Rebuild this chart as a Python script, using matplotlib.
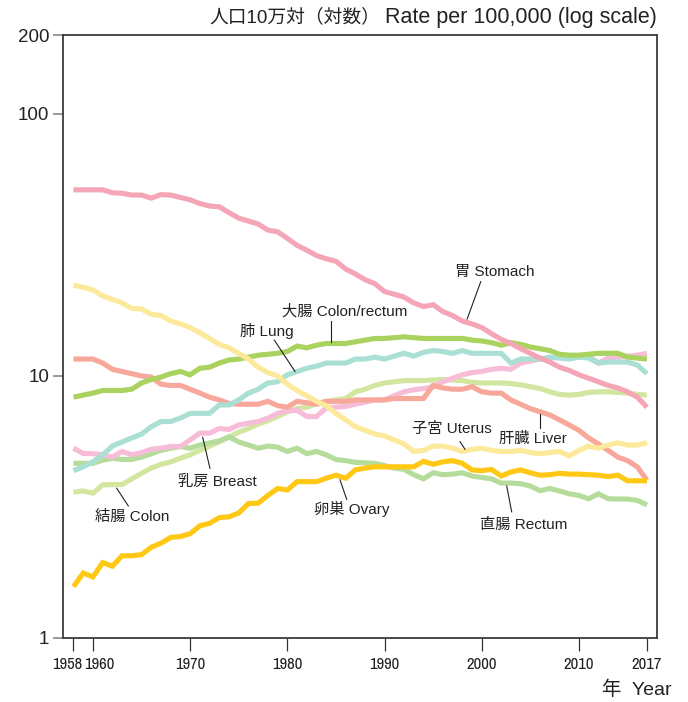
import matplotlib
matplotlib.use('Agg')
import matplotlib.pyplot as plt
from matplotlib import font_manager
from matplotlib.font_manager import FontProperties
from matplotlib.ticker import NullLocator
from matplotlib.transforms import ScaledTranslation

plt.rcParams['font.family'] = ['Liberation Sans', 'Noto Sans CJK JP', 'DejaVu Sans']

years = list(range(1958, 2018))

# rate per 100,000
stomach = [51.3, 51.3, 51.3, 51.3, 50.0, 49.8, 49.0, 49.0, 47.7, 49.2,
           49.0, 48.0, 47.0, 45.5, 44.5, 44.2, 42.0, 40.0, 39.0, 38.0,
           36.0, 35.5, 33.5, 31.5, 30.2, 28.8, 28.0, 27.4, 25.6, 24.5,
           23.3, 22.5, 21.0, 20.5, 20.0, 19.0, 18.4, 18.7, 17.6, 17.0,
           16.2, 15.8, 15.3, 14.5, 13.8, 13.3, 12.7, 12.2, 11.7, 11.3,
           10.8, 10.5, 10.1, 9.8, 9.5, 9.2, 9.0, 8.7, 8.3, 7.6]
uterus = [22.2, 21.8, 21.3, 20.2, 19.6, 19.0, 18.1, 18.0, 17.2, 17.0,
          16.2, 15.8, 15.3, 14.6, 13.9, 13.2, 12.8, 12.2, 11.6, 10.8,
          10.3, 10.0, 9.3, 8.8, 8.4, 8.0, 7.7, 7.2, 6.8, 6.4,
          6.2, 6.0, 5.9, 5.7, 5.5, 5.15, 5.2, 5.4, 5.4, 5.3,
          5.15, 5.25, 5.3, 5.2, 5.15, 5.15, 5.2, 5.1, 5.05, 5.1,
          5.15, 4.95, 5.2, 5.4, 5.3, 5.45, 5.55, 5.45, 5.45, 5.56]
colon_rectum = [8.3, 8.45, 8.6, 8.8, 8.8, 8.8, 8.9, 9.4, 9.7, 9.9,
                10.2, 10.4, 10.1, 10.7, 10.8, 11.2, 11.5, 11.6, 11.8, 12.0,
                12.1, 12.2, 12.4, 13.0, 12.8, 13.1, 13.3, 13.3, 13.3, 13.5,
                13.7, 13.9, 13.9, 14.0, 14.1, 14.0, 13.9, 13.9, 13.9, 13.9,
                13.9, 13.7, 13.6, 13.4, 13.1, 13.4, 13.2, 12.9, 12.7, 12.5,
                12.1, 12.0, 12.0, 12.1, 12.2, 12.2, 12.2, 11.8, 11.7, 11.6]
liver = [11.6, 11.6, 11.6, 11.2, 10.6, 10.4, 10.2, 10.0, 9.9, 9.3,
         9.2, 9.2, 8.9, 8.6, 8.3, 8.1, 7.85, 7.8, 7.8, 7.8,
         8.0, 7.7, 7.6, 8.0, 7.9, 7.8, 8.0, 8.0, 8.0, 8.1,
         8.1, 8.1, 8.1, 8.2, 8.2, 8.2, 8.2, 9.2, 9.0, 8.9,
         8.9, 9.1, 8.7, 8.6, 8.6, 8.1, 7.8, 7.5, 7.3, 7.1,
         6.8, 6.5, 6.2, 5.8, 5.5, 5.2, 4.9, 4.75, 4.5, 4.0]
lung = [4.35, 4.5, 4.7, 5.0, 5.4, 5.6, 5.8, 6.0, 6.4, 6.7,
        6.7, 6.9, 7.2, 7.2, 7.2, 7.75, 7.75, 8.1, 8.6, 8.9,
        9.4, 9.5, 10.1, 10.4, 10.7, 10.9, 11.2, 11.2, 11.2, 11.6,
        11.6, 11.8, 11.6, 11.9, 12.2, 11.9, 12.3, 12.5, 12.4, 12.2,
        12.5, 12.2, 12.2, 12.2, 12.2, 11.2, 11.6, 11.6, 11.6, 11.8,
        11.7, 11.6, 11.8, 11.7, 11.2, 11.3, 11.3, 11.3, 11.0, 10.2]
breast = [5.3, 5.06, 5.05, 5.0, 4.9, 5.15, 5.0, 5.1, 5.25, 5.3,
          5.38, 5.38, 5.7, 6.05, 6.05, 6.3, 6.25, 6.5, 6.6, 6.7,
          6.9, 7.2, 7.35, 7.4, 7.0, 7.0, 7.55, 7.6, 7.65, 7.8,
          7.95, 8.1, 8.1, 8.4, 8.7, 8.85, 8.95, 9.1, 9.5, 9.8,
          10.1, 10.3, 10.4, 10.6, 10.7, 10.6, 11.2, 11.4, 11.6, 11.7,
          11.8, 11.7, 11.8, 11.9, 11.2, 11.7, 11.8, 11.9, 12.0, 12.2]
colon = [3.6, 3.64, 3.57, 3.84, 3.85, 3.85, 4.05, 4.25, 4.45, 4.6,
         4.7, 4.85, 5.0, 5.2, 5.4, 5.6, 5.85, 6.1, 6.3, 6.55,
         6.75, 7.0, 7.3, 7.5, 7.6, 7.85, 8.0, 8.1, 8.2, 8.7,
         8.9, 9.2, 9.4, 9.5, 9.6, 9.6, 9.6, 9.65, 9.7, 9.65,
         9.6, 9.45, 9.4, 9.4, 9.4, 9.35, 9.25, 9.1, 8.95, 8.7,
         8.5, 8.45, 8.5, 8.65, 8.7, 8.7, 8.65, 8.6, 8.5, 8.45]
rectum = [4.64, 4.64, 4.64, 4.77, 4.85, 4.8, 4.8, 4.9, 5.05, 5.2,
          5.3, 5.38, 5.3, 5.45, 5.55, 5.65, 5.85, 5.6, 5.45, 5.3,
          5.4, 5.35, 5.15, 5.3, 5.05, 5.15, 5.0, 4.8, 4.75, 4.68,
          4.66, 4.64, 4.55, 4.45, 4.4, 4.2, 4.05, 4.27, 4.2, 4.22,
          4.27, 4.15, 4.1, 4.05, 3.9, 3.9, 3.88, 3.8, 3.65, 3.72,
          3.64, 3.55, 3.5, 3.4, 3.55, 3.4, 3.39, 3.39, 3.35, 3.22]
ovary = [1.57, 1.77, 1.71, 1.94, 1.88, 2.06, 2.06, 2.08, 2.22, 2.3,
         2.42, 2.44, 2.5, 2.68, 2.74, 2.88, 2.9, 3.0, 3.26, 3.27,
         3.5, 3.72, 3.67, 3.95, 3.95, 3.95, 4.07, 4.18, 4.07, 4.38,
         4.45, 4.5, 4.5, 4.5, 4.5, 4.5, 4.72, 4.6, 4.7, 4.75,
         4.64, 4.38, 4.35, 4.4, 4.15, 4.3, 4.38, 4.27, 4.18, 4.2,
         4.25, 4.22, 4.22, 4.2, 4.18, 4.13, 4.18, 3.98, 3.98, 3.98]

x_ticks = [1958, 1960, 1970, 1980, 1990, 2000, 2010, 2017]
y_ticks = [1, 10, 100, 200]


def condensed_font():
    # look for an installed condensed/narrow sans for the year labels
    best = None
    for f in font_manager.fontManager.ttflist:
        if f.style != 'normal' or str(f.weight) not in ('400', 'normal', 'regular', 'book'):
            continue
        st = str(f.stretch)
        score = None
        if 'Narrow' in f.name:
            score = 0
        elif st in ('condensed', '75'):
            score = 1
        elif st in ('semi-condensed', '87.5'):
            score = 2
        if score is not None and (best is None or score < best[0]):
            best = (score, f.fname)
    return best[1] if best else None


fig = plt.figure(figsize=(6.88, 7.02), dpi=100)
ax = fig.add_axes([63/688, 1-638/702, 594/688, 603/702])

# drawing order: bottom to top
series = [
    (colon, '#d2e6a0'),
    (rectum, '#b5dc9b'),
    (breast, '#f7bcd8'),
    (liver, '#f8a79b'),
    (lung, '#aadfd3'),
    (colon_rectum, '#a9d25e'),
    (stomach, '#f4a6b7'),
    (uterus, '#fde99b'),
    (ovary, '#ffc815'),
]
for vals, col in series:
    ax.plot(years, vals, color=col, lw=3.7, solid_joinstyle='miter',
            solid_capstyle='butt')

ax.set_yscale('log')
ax.set_ylim(1, 200)
ax.set_xlim(1956.92, 2018.03)
ax.set_yticks(y_ticks)
ax.set_yticklabels([str(v) for v in y_ticks], fontsize=13.5)
ax.yaxis.set_minor_locator(NullLocator())
ax.set_xticks(x_ticks)
cf = condensed_font()
if cf:
    xfp = FontProperties(fname=cf, size=12)
else:
    xfp = FontProperties(family='Liberation Sans', size=9.5)
ax.set_xticklabels([str(v) for v in x_ticks], fontproperties=xfp)
ax.tick_params(axis='y', length=7, width=1.2, color='#888888', pad=3,
               labelcolor='#222222')
ax.tick_params(axis='x', length=9, width=0.9, color='#333333', pad=5,
               labelcolor='#222222')
for sp in ax.spines.values():
    sp.set_color('#3c3c3c')
    sp.set_linewidth(1.3)

# pull the crowded 1958/1960 labels apart
xl = ax.get_xticklabels()
xl[0].set_transform(xl[0].get_transform() + ScaledTranslation(-0.065, 0, fig.dpi_scale_trans))
xl[1].set_transform(xl[1].get_transform() + ScaledTranslation(0.065, 0, fig.dpi_scale_trans))

# labels with leader lines: (text, text pos, line start, line end)
labels = [
    ('胃 Stomach', (1997.25, 25.0), (1999.9, 22.9), (1998.5, 16.5)),
    ('大腸 Colon/rectum', (1979.4, 17.6), (1984.46, 16.2), (1984.46, 13.5)),
    ('肺 Lung', (1975.1, 14.85), (1978.66, 13.7), (1980.79, 10.4)),
    ('乳房 Breast', (1968.8, 3.95), (1971.29, 5.83), (1972.04, 4.44)),
    ('結腸 Colon', (1960.2, 2.89), (1962.44, 3.73), (1963.64, 3.19)),
    ('卵巣 Ovary', (1982.7, 3.10), (1985.42, 4.01), (1986.11, 3.38)),
    ('子宮 Uterus', (1992.8, 6.28), (1997.76, 5.61), (1998.28, 5.25)),
    ('肝臓 Liver', (2001.8, 5.75), (2005.98, 7.14), (2005.98, 6.32)),
    ('直腸 Rectum', (1999.8, 2.70), (2002.57, 3.80), (2003.08, 3.03)),
]
for txt, (tx, ty), (x0, y0), (x1, y1) in labels:
    ax.text(tx, ty, txt, fontsize=11, ha='left', va='center', color='#222222')
    ax.plot([x0, x1], [y0, y1], color='#222222', lw=0.8)

fig.text(657/688, 1-17/702, 'Rate per 100,000 (log scale)',
         ha='right', va='center', fontsize=15.5, color='#222222')
fig.text(380/688, 1-17/702, '人口10万対（対数）',
         ha='right', va='center', fontsize=13.5, color='#222222')
fig.text(672/688, 1-690/702, '年  Year', ha='right', va='center',
         fontsize=14, color='#222222')

fig.savefig('out.png', dpi=100)
